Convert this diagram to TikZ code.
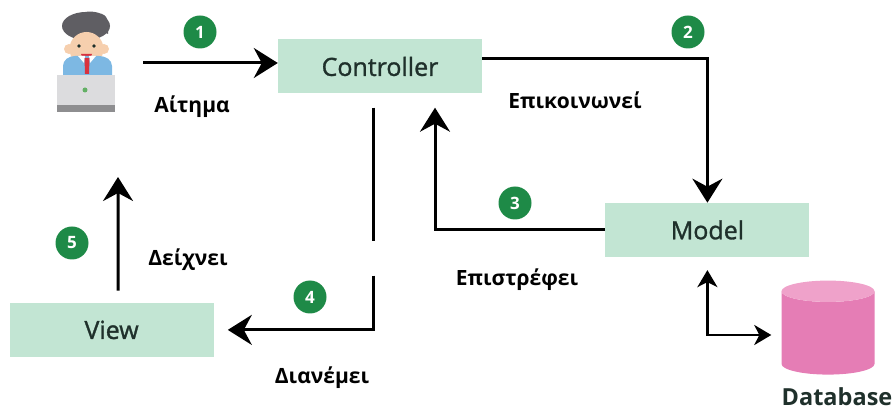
\documentclass[tikz,border=0pt]{standalone}
\usepackage{fontspec}
\setmainfont{Open Sans}
\newfontfamily\boxfont[FakeBold=1.2]{Open Sans}
\usetikzlibrary{positioning,arrows.meta,shapes.geometric}

\definecolor{boxgreen}{HTML}{C2E5D3}
\definecolor{numgreen}{HTML}{1E8A47}
\definecolor{textdark}{HTML}{1F302B}
\definecolor{dbpink}{HTML}{E57DB5}
\definecolor{dbtop}{HTML}{EFA2CA}
\definecolor{hairgray}{HTML}{5F5E63}
\definecolor{skin}{HTML}{F6CFAE}
\definecolor{shirtblue}{HTML}{7DB8E3}
\definecolor{tiered}{HTML}{D9323E}
\definecolor{laptopgray}{HTML}{DCDCDE}
\definecolor{basegray}{HTML}{8E8E90}

\begin{document}
\begin{tikzpicture}[x=1pt,y=1pt]
 	\tikzstyle{box}=[rectangle, fill=boxgreen, text=textdark, minimum width=204pt, minimum height=54pt, font=\boxfont\fontsize{25}{30}\selectfont]
 	\tikzstyle{num}=[circle, fill=numgreen, text=white, minimum size=33pt, inner sep=0pt, font=\fontsize{17}{19}\selectfont\bfseries]
 	\tikzstyle{lbl}=[font=\fontsize{21}{25}\selectfont\bfseries]
 	\tikzstyle{connect}=[-{Stealth[length=24pt,width=30pt,inset=8pt]}, line width=3pt]
 	\tikzstyle{dbconnect}=[{Stealth[length=17pt,width=20pt,inset=5pt]}-{Stealth[length=17pt,width=20pt,inset=5pt]}, line width=2.5pt]
 	\useasboundingbox (0,0) rectangle (893,412);
 	% the three boxes
 	\node[box] (ctrl) at (380,345.5) {Controller};
 	\node[box] (model) [below right=109pt and 123pt of ctrl] {Model};
 	\node[box] (view) [below left=209pt and 64pt of ctrl] {View};
 	\node[cylinder, shape border rotate=90, aspect=3.2, cylinder uses custom fill, cylinder body fill=dbpink, cylinder end fill=dbtop, minimum width=93pt, minimum height=94pt] (db) at (828,77) {};
 	\node[font=\fontsize{23.5}{28}\selectfont\bfseries, text=textdark] (dbname) at (837,15) {Database};
 	% user at the laptop
 	\node[minimum width=58pt, minimum height=112pt] (user) at (86,356) {};
 	\fill[hairgray] (86,386) ellipse (24pt and 14pt);
 	\fill[skin] (69,363) circle (5pt) (104,363) circle (5pt);
 	\fill[skin] (86.5,363) ellipse (17pt and 17pt);
 	\fill[hairgray] (66,380) to[out=80,in=200] (78,398) to[out=20,in=160] (102,398) to[out=-20,in=90] (108,378) to[out=160,in=0] (92,385) to[out=200,in=-10] cycle;
 	\fill[textdark] (79,366) circle (1.8pt) (94,366) circle (1.8pt);
 	\fill[tiered] (81,358) arc[start angle=180, end angle=360, radius=5.5pt] -- cycle;
 	\fill[shirtblue] (63,335) -- (63,346) to[out=90,in=180] (75,356) -- (99,356) to[out=0,in=90] (112,346) -- (112,335) -- cycle;
 	\fill[white] (78,356) -- (85,356) -- (84,349) -- cycle (89,356) -- (96,356) -- (90,349) -- cycle;
 	\fill[tiered] (84.5,354) -- (89.5,354) -- (89,338) -- (85,338) -- cycle;
 	\fill[laptopgray] (57,307) rectangle (115,337);
 	\fill[basegray] (57,300) rectangle (115,307);
 	\fill[basegray!70!green] (85,322) circle (2.5pt);
 	% numbered steps
 	\node[num] (n1) at (200,380) {1};
 	\node[num] (n2) at (688,380) {2};
 	\node[num] (n3) at (515,209) {3};
 	\node[num] (n4) at (310,115) {4};
 	\node[num] (n5) at (72,169) {5};
 	% labels
 	\node[lbl] (req) at (192,305) {Αίτημα};
 	\node[lbl] (comm) at (575,312) {Επικοινωνεί};
 	\node[lbl] (ret) at (517,132) {Επιστρέφει};
 	\node[lbl] (dist) at (322,34) {Διανέμει};
 	\node[lbl] (show) at (188,152) {Δείχνει};
 	% arrows
 	\coordinate (a1) at (143,349);
 	\coordinate (up5) at (118,235);
 	\draw[connect] (a1) -- (a1 -| ctrl.west);
 	\draw[connect] ([yshift=8pt]ctrl.east) -| (model.north);
 	\draw[connect, shorten >=14pt] (model.west) -| ([xshift=55pt]ctrl.south);
 	\draw[line width=3pt] ([xshift=-7pt,yshift=-14pt]ctrl.south) -- ++(0,-133) coordinate (gapA);
 	\draw[connect, shorten >=14pt] (gapA) ++(0,-35) -- (gapA |- view.east) -- (view.east);
 	\draw[connect] ([xshift=6.5pt,yshift=12pt]view.north) -- (up5);
 	\draw[dbconnect, shorten <=13pt, shorten >=10pt] (model.south) |- (db.west);
\end{tikzpicture}
\end{document}
